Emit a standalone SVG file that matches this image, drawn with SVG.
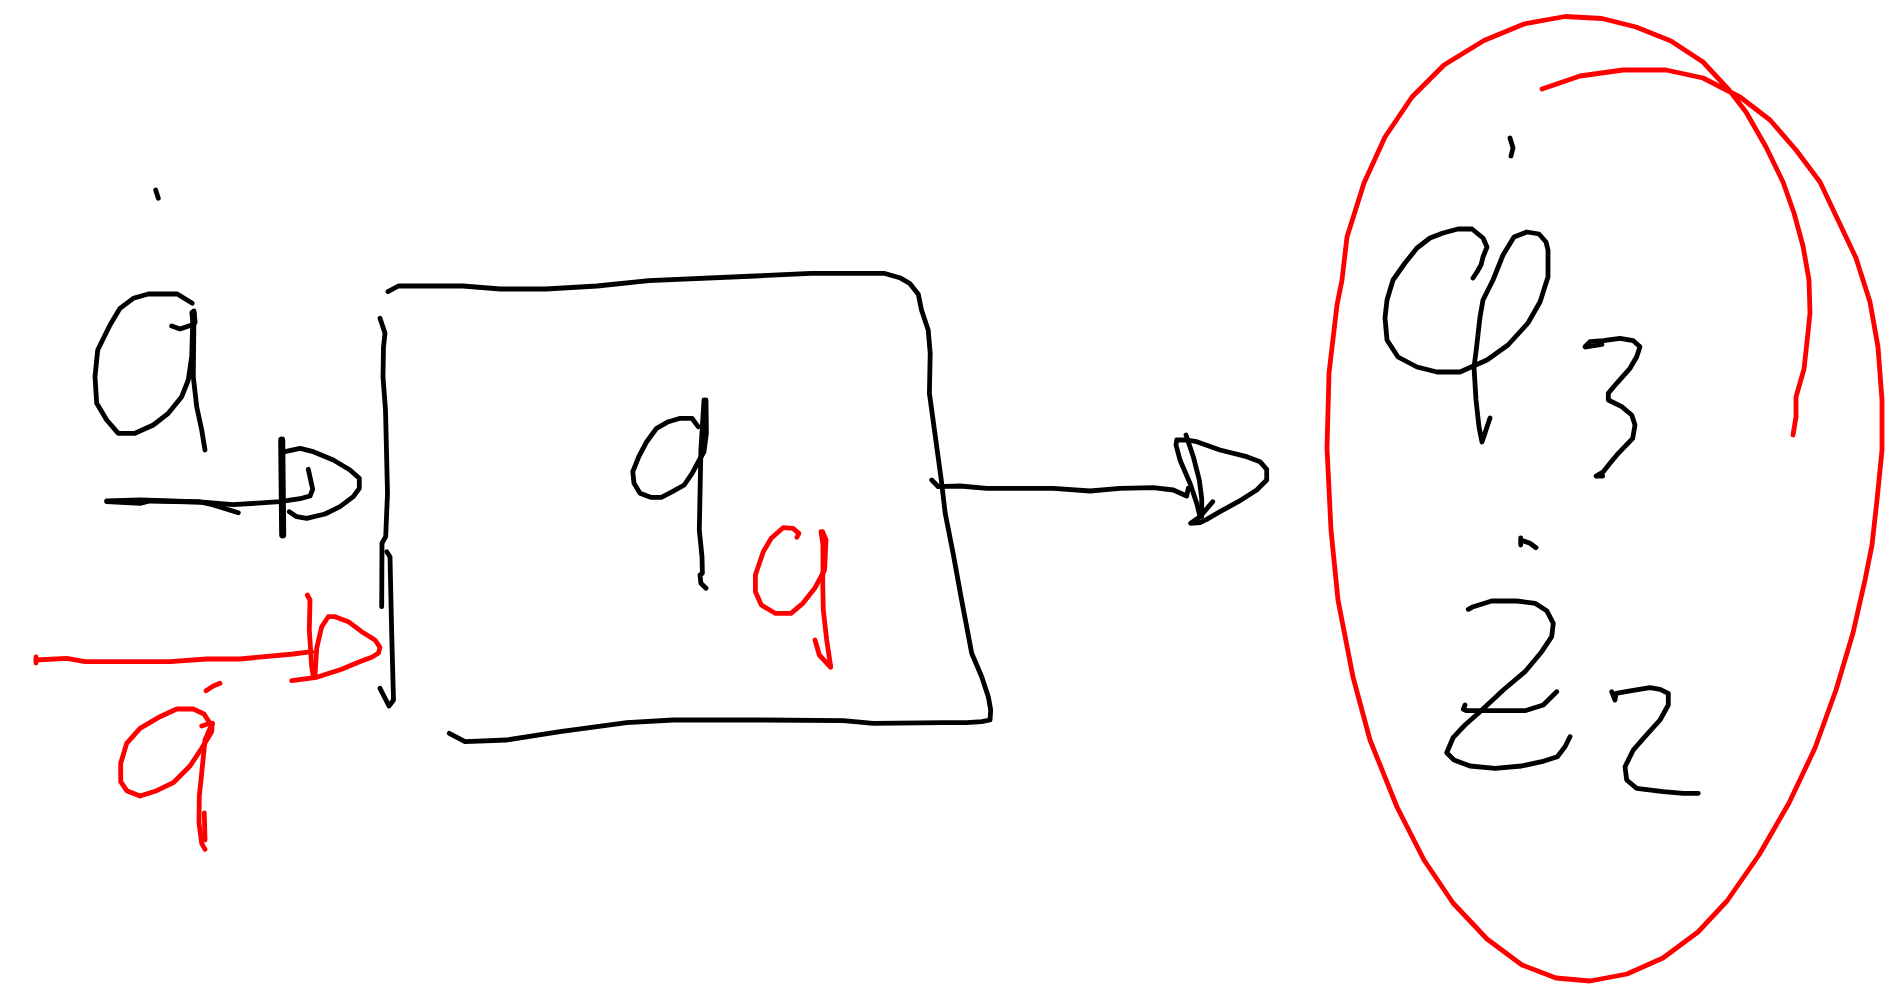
<svg xmlns="http://www.w3.org/2000/svg" width="1894" height="992" viewBox="0 0 1894 992">
<style>
.k{fill:none;stroke:#000;stroke-width:4.8;stroke-linecap:round;stroke-linejoin:round}
.r{fill:none;stroke:#ff0000;stroke-width:4.8;stroke-linecap:round;stroke-linejoin:round}
.thick{stroke-width:7}
</style>
<rect width="1894" height="992" fill="#fff"/>
<g id="connectors">
  <g id="arrow-black-in">
    <path class="k" d="M106.7,501.7 L140,503.3 L150,501 L200,502 L213.3,505 L238.3,512.7"/>
    <path class="k" d="M106.7,501 L140,500 L200,502 L233,504.7 L280,501.7 L301.7,498.3 L310,496 L312.7,489.3 L308.3,469.3"/>
    <path class="k thick" d="M281.7,440 L282.7,535"/>
    <path class="k" d="M285,451.7 L300,448.3 L313.3,451.7 L333.3,460 L350,470 L359.3,478.3 L359.3,488.3 L353.3,496.7 L340,506.7 L325,514 L306.7,518.3 L296.7,516.7 L289.3,511.7"/>
  </g>
  <g id="arrow-red-in">
    <path class="r" d="M36,657 L36,663"/>
    <path class="r" d="M36,660 L66.7,658.3 L85,661.7 L170,661.7 L206.7,659 L240,659 L293.3,654 L311.7,651.7"/>
    <path class="r" d="M307.3,595 L310,600 L309.3,630 L311.7,666.7 L313.3,676.7"/>
    <path class="r" d="M315,675 L316.7,648.3 L321.7,626.7 L328.3,616.7 L335,616.7 L348.3,621.7 L361.7,631.7 L375,640 L380,647.3 L378.3,653.3 L371.7,657.3 L358.3,662.3 L341.7,669.3 L316.7,677.3 L291.7,680.7"/>
  </g>
  <g id="arrow-out">
    <path class="k" d="M931.7,480 L938.3,486.7 L960,486 L986.7,488.3 L1053.3,488.3 L1090,491 L1120,488.3 L1153.3,487.7 L1173.3,490 L1186.7,496 L1188.3,488.3"/>
    <path class="k" d="M1186,435 L1193.3,456.7 L1199.3,480 L1201.7,498.3 L1201.7,516.7"/>
    <path class="k" d="M1212.7,501.7 L1200,516.7"/>
    <path class="k" d="M1176.7,440 L1176,445 L1180,460 L1190,483.3 L1196.7,503.3 L1200,516.7 L1190.7,523.3 L1200,522.7 L1206.7,519.3 L1220,511.7 L1238.3,501.7 L1256.7,490 L1266.7,480 L1266.7,469.3 L1260,461.7 L1246.7,456.7 L1220,450 L1196.7,441.7 L1186.7,440 L1176.7,440"/>
  </g>
</g>
<g id="node-q-black">
  <path class="k" d="M155.7,190 L158.3,198.3"/>
  <path class="k" d="M192.3,303.3 L177.3,294 L148.3,294 L133.3,298.3 L120,308.3 L110,325 L97.7,350 L95,376.7 L96.7,403.3 L106.7,420 L118.3,433.3 L135,433.3 L153.3,425 L168.3,413.3 L181.7,396.7 L188.3,380 L191.7,356.7 L192.7,323.3 L194,313.3"/>
  <path class="k" d="M194,311 L193.3,376.7 L196.7,406.7 L201.7,430 L205,450"/>
  <path class="k" d="M171.7,326 L180,329 L191.7,325"/>
  <path class="k thick" d="M193,313 L194,322"/>
</g>
<g id="node-q-red">
  <path class="r" d="M206,690.7 L213.3,686 L220,683.3"/>
  <path class="r" d="M201.7,726 L210,723.3 L204,714 L193.3,709 L176.7,709 L160,716.7 L140,728.3 L126.7,743.3 L120.7,763.3 L120.7,781.7 L126.7,790.7 L140,796 L156.7,790.7 L173.3,782.7 L190,766 L201.7,748.3 L211.7,731.7 L212.3,723.3"/>
  <path class="r" d="M212.3,723.3 L205,740 L201.7,773.3 L199.3,796 L199,823.3 L201.7,843.3 L205,849.3"/>
  <path class="r" d="M204.3,813 L205,840"/>
</g>
<g id="node-box">
  <path class="k" d="M388,291.7 L398.4,286 L462.8,286 L500.4,289 L545.8,289 L597.2,286 L648.7,280.7 L755.4,276 L810.8,273.3 L883.9,273.3 L899.7,277.7 L909.6,283.3 L918.3,294.3 L921.5,310 L928.2,330 L930.2,353.3 L929.4,393.3 L941.3,480 L945.2,513.3 L953.1,553.3 L961,596.7 L966.7,626.7 L971.7,653.3 L981.7,676.7 L988.3,696.7 L990.7,710 L990,720 L981.7,721.7 L966.7,722.7 L943.3,722.7 L873.3,723.3 L843.3,720.7 L760,720 L673.3,720 L626.7,722.7 L560,731.7 L506.7,740 L465,741.7 L449.3,733.3"/>
  <path class="k" d="M380,318.3 L385,333.3 L383.5,347 L383,377 L385.5,410 L387.5,493.3 L385.7,536.7 L382,543 L381.7,606.7"/>
  <path class="k" d="M386.7,551.7 L390,556.7 L391.7,633.3 L393.5,700 L389,706 L380,688.3"/>
  <g id="box-q-black">
    <path class="k" d="M698.1,426.7 L692.1,418.3 L680.3,418.3 L668.4,421.7 L656.6,428.3 L646.7,441.7 L638.8,456.7 L632.8,471.7 L634,483.3 L640,493.3 L650.6,497.3 L661.3,497.3 L672.4,491.7 L684.2,485 L692.1,473.3 L699.3,460 L704,451.7 L706.4,433.3 L706,400"/>
    <path class="k" d="M704,400 L700.9,450 L699.3,530 L702,556.7 L702.4,573.3 L700,575 L700.9,583.3 L706,588.3"/>
  </g>
  <g id="box-q-red">
    <path class="r" d="M796.9,537.3 L798.9,533.3 L793,528.3 L783.1,527.7 L771.2,538.3 L763.3,551.7 L755.4,575 L755.4,591.7 L761.3,605 L775.2,613.3 L791,613.3 L802.9,603.3 L814.7,588.3 L824.6,570 L826,540 L822.6,531.7"/>
    <path class="r" d="M821,531.7 L823,545 L823,570 L822.7,580 L823.3,610 L826.7,640 L830.7,666.7"/>
    <path class="r" d="M815,640 L819.3,655 L830.7,667.3"/>
  </g>
</g>
<g id="node-ellipse">
  <path class="r" d="M1542,89 L1580,76 L1623,70 L1666,70 L1703,78 L1740,97 L1770,120 L1796,150 L1820,182 L1837,218 L1856,258 L1870,302 L1878,347 L1882,400 L1882,450 L1877,500 L1872,545 L1865,580 L1853,633 L1836,690 L1815,748 L1789,803 L1759,855 L1727,901 L1698,932 L1663,958 L1627,974 L1590,981 L1556,978 L1522,965 L1487,939 L1453,903 L1424,860 L1397,807 L1370,740 L1353,677 L1338,600 L1331,530 L1327,448 L1329,373 L1337,305 L1342,280 L1347,237 L1364,183 L1385,137 L1412,97 L1444,65 L1484,40.5 L1524,24 L1565,16.5 L1602,18.5 L1636,27 L1671,41 L1703,62 L1729,90 L1746,112 L1766,147 L1783,182 L1794,213 L1803,246 L1809,280 L1810,313 L1807,342 L1804,369 L1796,397 L1796,417 L1793,435"/>
  <g id="phi3">
    <path class="k" d="M1510,138 L1513,148 L1511,156"/>
    <path class="k" d="M1473,278 L1477,272 L1481,265 L1483,257 L1487,247 L1483,238 L1472,229 L1458,229 L1443,233 L1430,238 L1417,248 L1405,263 L1393,280 L1387,300 L1385,318 L1387,340 L1398,357 L1417,367 L1437,372 L1460,372 L1487,360 L1508,345 L1528,323 L1540,302 L1547,280 L1548,277 L1548,250 L1546,242 L1539,234 L1527,232 L1514,237 L1503,255 L1493,280 L1483,300 L1480,317 L1476,352 L1474,367 L1476,400 L1479,427 L1482,442 L1490,418"/>
    <path class="k" d="M1585,346.7 L1590,341.7 L1603.3,340.7 L1620,338.3 L1633.3,340.7 L1640,346.7 L1636.7,356.7 L1630,368.3 L1616.7,383.3 L1608.3,393.3 L1608.3,400 L1621.7,406.7 L1631.7,415 L1635,425 L1632.7,438.3 L1618.3,453.3 L1610,463.3 L1603.3,471.7 L1596,476 L1602.7,476"/>
    <path class="k" d="M1586,347 L1602,344.5"/>
  </g>
  <g id="z2">
    <path class="k" d="M1520.7,538 L1520.7,545 M1520.7,540 L1530,543.3 L1536,547.7"/>
    <path class="k" d="M1468.3,609.3 L1473.3,606.7 L1491.7,601 L1516.7,601 L1535,603.3 L1546.7,610.7 L1553.3,623.3 L1551.7,636.7 L1541.7,651.7 L1525,671.7 L1503.3,690 L1480,711.7 L1465,725 L1453.3,737.3 L1446.7,752.7 L1454,760 L1470,766 L1495,768.3 L1521.7,766 L1541.7,761.7 L1557.3,756.7 L1565,746.7 L1570,736.7"/>
    <path class="k" d="M1465,705 L1463.3,709.3 L1466.7,710.7 L1525,710.7 L1543.3,705 L1556.7,691.7"/>
    <path class="k" d="M1611.7,691.7 L1615,700 L1616,693.3 L1631.7,690.7 L1650,687.7 L1660,689.3 L1668.3,693.3 L1668.3,705 L1660,720 L1645,736.7 L1633.3,750 L1625,766.7 L1626.7,780 L1636.7,788.3 L1663.3,791.7 L1683.3,793.3 L1698.3,793.3"/>
  </g>
</g>
</svg>
